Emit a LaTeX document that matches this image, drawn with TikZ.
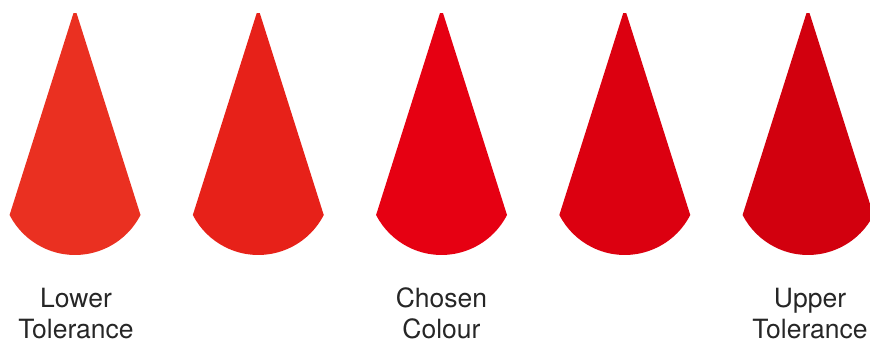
\documentclass[tikz,border=0pt]{standalone}
\usepackage{fontspec}
\setmainfont{TeX Gyre Heros}
\definecolor{coneA}{RGB}{234,48,33}
\definecolor{coneB}{RGB}{231,33,25}
\definecolor{coneC}{RGB}{230,0,18}
\definecolor{coneD}{RGB}{220,0,16}
\definecolor{coneE}{RGB}{210,0,14}
\begin{document}
\begin{tikzpicture}[x=1pt,y=-1pt,
  lab/.style={anchor=base,align=center,inner sep=0pt,font=\fontsize{26.5}{31}\selectfont,text=black!85}]
\useasboundingbox (0,0) rectangle (870,343);
\foreach \cx/\col in {75/coneA,258.25/coneB,441.5/coneC,624.75/coneD,808/coneE}{
  \fill[\col] (\cx-1.5,13) -- (\cx+1.5,13) -- (\cx+65.5,215)
    arc[start angle=27.2,end angle=152.8,radius=73.6] -- cycle;
}
\node[lab] (lower) at (76,338) {Lower\\Tolerance};
\node[lab] (chosen) at (441.5,338) {Chosen\\Colour};
\node[lab] (upper) at (810,338) {Upper\\Tolerance};
\end{tikzpicture}
\end{document}
